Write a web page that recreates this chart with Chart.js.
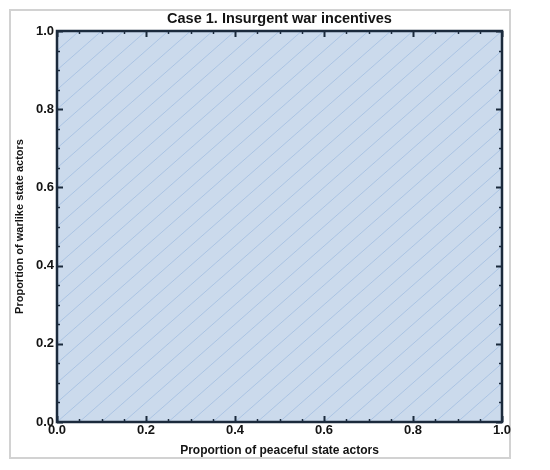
<!DOCTYPE html>
<html>
<head>
<meta charset="utf-8">
<script src="https://cdn.jsdelivr.net/npm/chart.js@4.4.1/dist/chart.umd.min.js"></script>
<style>
  html, body { margin: 0; padding: 0; background: #ffffff; }
  #wrap { width: 550px; height: 470px; position: relative; }
</style>
</head>
<body>
<div id="wrap"><canvas id="c" width="550" height="470"></canvas></div>
<script>
// ---- data ----
const chartTitle = 'Case 1. Insurgent war incentives';
const xAxisTitle = 'Proportion of peaceful state actors';
const yAxisTitle = 'Proportion of warlike state actors';
const xTickLabels = ['0.0', '0.2', '0.4', '0.6', '0.8', '1.0'];
const yTickLabels = ['0.0', '0.2', '0.4', '0.6', '0.8', '1.0'];
// region where the condition holds: whole unit square
const regionX = [0, 1];
const regionUpper = [1, 1];
// mesh diagonals y = x + offset
const meshOffsets = [-0.95, -0.9, -0.85, -0.8, -0.75, -0.7, -0.65, -0.6, -0.55, -0.5,
  -0.45, -0.4, -0.35, -0.3, -0.25, -0.2, -0.15, -0.1, -0.05, 0,
  0.05, 0.1, 0.15, 0.2, 0.25, 0.3, 0.35, 0.4, 0.45, 0.5,
  0.55, 0.6, 0.65, 0.7, 0.75, 0.8, 0.85, 0.9, 0.95];

const FILL = 'rgb(203,218,236)';
const MESH = 'rgba(150,182,222,0.6)';
const GRID = 'rgba(165,193,228,0.7)';
const FRAME = '#1b2a3c';
const TEXT = '#141414';

const datasets = [{
  type: 'line',
  data: regionX.map((x, i) => ({ x: x, y: regionUpper[i] })),
  fill: 'start',
  backgroundColor: FILL,
  borderWidth: 0,
  pointRadius: 0,
  order: 10
}];
meshOffsets.forEach(c => {
  datasets.push({
    type: 'line',
    data: [{ x: Math.max(0, -c), y: Math.max(0, c) }, { x: Math.min(1, 1 - c), y: Math.min(1, 1 + c) }],
    borderColor: MESH,
    borderWidth: 1,
    pointRadius: 0,
    fill: false,
    order: 1
  });
});

function labelFor(list, v) {
  const idx = Math.round(v * 100) % 20 === 0 ? Math.round(v * 5) : -1;
  return idx >= 0 ? list[idx] : '';
}

const decor = {
  id: 'decor',
  beforeDraw(chart) {
    const ctx = chart.ctx;
    ctx.save();
    ctx.fillStyle = '#ffffff';
    ctx.fillRect(0, 0, chart.width, chart.height);
    ctx.strokeStyle = '#d2d2d2';
    ctx.lineWidth = 2;
    ctx.strokeRect(10, 10, 500, 448);
    ctx.restore();
  },
  afterDraw(chart) {
    const ctx = chart.ctx;
    const a = chart.chartArea;
    const xs = chart.scales.x, ys = chart.scales.y;
    ctx.save();
    ctx.strokeStyle = FRAME;
    ctx.lineCap = 'butt';
    xs.ticks.forEach(t => {
      const px = Math.round(xs.getPixelForValue(t.value)) + 0.5;
      const major = t.label !== '';
      const len = major ? 6 : 3;
      ctx.lineWidth = major ? 2 : 1.5;
      ctx.beginPath();
      ctx.moveTo(px, a.bottom); ctx.lineTo(px, a.bottom - len);
      ctx.moveTo(px, a.top); ctx.lineTo(px, a.top + len);
      ctx.stroke();
    });
    ys.ticks.forEach(t => {
      const py = Math.round(ys.getPixelForValue(t.value)) + 0.5;
      const major = t.label !== '';
      const len = major ? 6 : 3;
      ctx.lineWidth = major ? 2 : 1.5;
      ctx.beginPath();
      ctx.moveTo(a.left, py); ctx.lineTo(a.left + len, py);
      ctx.moveTo(a.right, py); ctx.lineTo(a.right - len, py);
      ctx.stroke();
    });
    ctx.lineWidth = 2.5;
    ctx.strokeRect(a.left, a.top, a.right - a.left, a.bottom - a.top);
    ctx.restore();
  }
};

new Chart(document.getElementById('c'), {
  type: 'line',
  data: { datasets: datasets },
  plugins: [decor],
  options: {
    responsive: false,
    animation: false,
    layout: { padding: { left: 10, right: 48, top: 10, bottom: 12 } },
    plugins: {
      legend: { display: false },
      tooltip: { enabled: false },
      title: {
        display: true,
        text: chartTitle,
        fullSize: false,
        color: TEXT,
        font: { family: 'Liberation Sans, Arial, sans-serif', size: 14.5, weight: 'bold' },
        padding: { top: 0, bottom: 3.6 }
      }
    },
    scales: {
      x: {
        type: 'linear', min: 0, max: 1, z: 1,
        afterFit(s) { s.height = 36; },
        ticks: {
          stepSize: 0.05, autoSkip: false, maxRotation: 0, padding: 1,
          color: TEXT,
          font: { family: 'Liberation Sans, Arial, sans-serif', size: 13, weight: 'bold' },
          callback: v => labelFor(xTickLabels, v)
        },
        grid: { color: GRID, lineWidth: 1, drawTicks: false },
        border: { display: false },
        title: {
          display: true, text: xAxisTitle, color: TEXT,
          font: { family: 'Liberation Sans, Arial, sans-serif', size: 12, weight: 'bold' },
          padding: { top: 0, bottom: 0 }
        }
      },
      y: {
        type: 'linear', min: 0, max: 1, z: 1,
        afterFit(s) { s.width = 47; },
        ticks: {
          stepSize: 0.05, autoSkip: false, padding: 3,
          color: TEXT,
          font: { family: 'Liberation Sans, Arial, sans-serif', size: 13, weight: 'bold' },
          callback: v => labelFor(yTickLabels, v)
        },
        grid: { color: GRID, lineWidth: 1, drawTicks: false },
        border: { display: false },
        title: {
          display: true, text: yAxisTitle, color: TEXT,
          font: { family: 'Liberation Sans, Arial, sans-serif', size: 11, weight: 'bold' },
          padding: { top: 3.5, bottom: 0 }
        }
      }
    }
  }
});
</script>
</body>
</html>
